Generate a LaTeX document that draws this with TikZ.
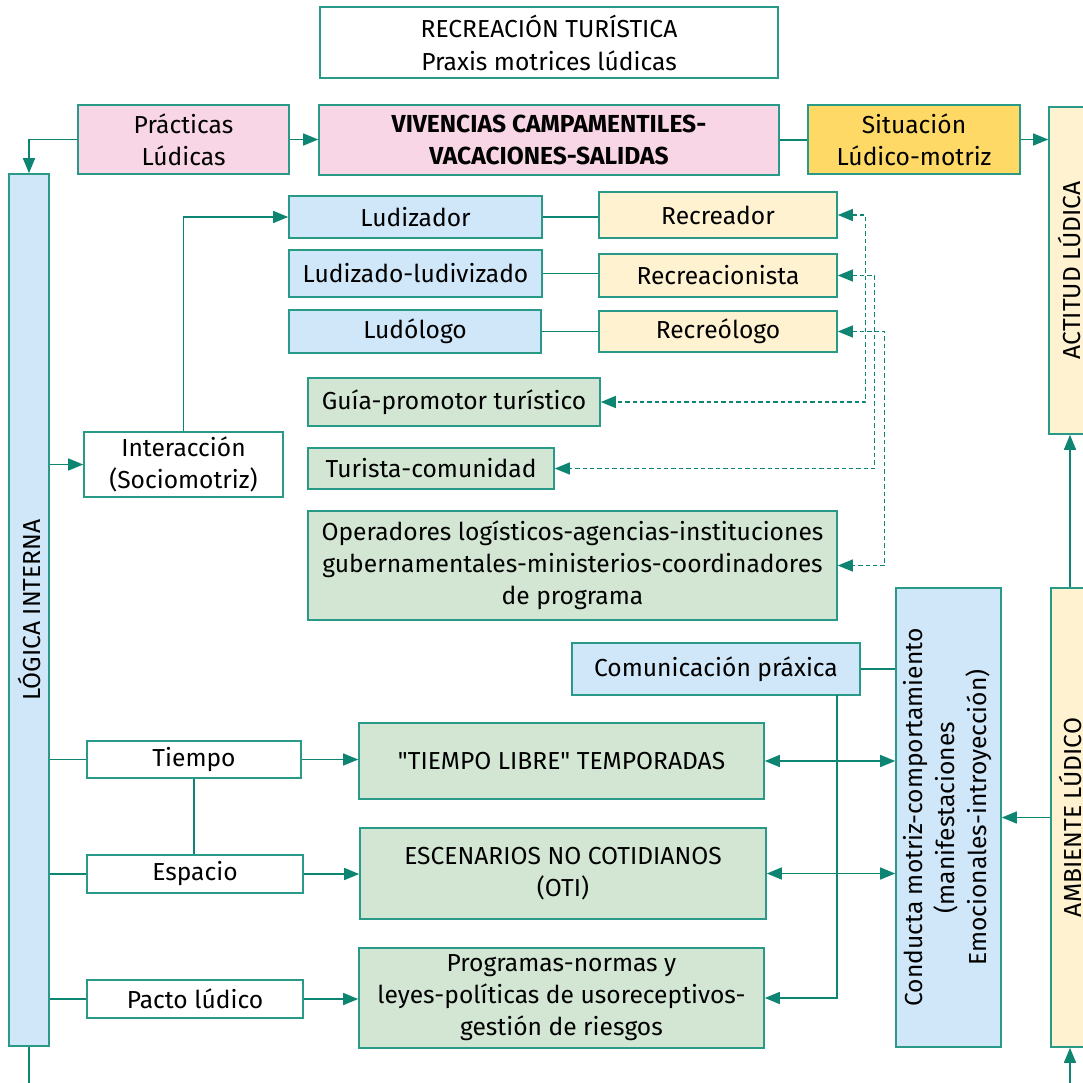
\documentclass[tikz,border=0pt]{standalone}
\usepackage{fontspec}
\setmainfont{Fira Sans}[Ligatures=TeXOff]
\usetikzlibrary{arrows.meta}

\definecolor{edgec}{HTML}{2A9A88}
\definecolor{linec}{HTML}{0E8472}
\definecolor{pinkf}{HTML}{F9D6E6}
\definecolor{goldf}{HTML}{FFD966}
\definecolor{creamf}{HTML}{FFF2D0}
\definecolor{bluef}{HTML}{CFE7F8}
\definecolor{greenf}{HTML}{D2E6D3}

\tikzset{
  bx/.style={draw=edgec, line width=0.8pt, inner sep=0pt, align=center,
             font=\fontsize{12.3}{16}\selectfont, text=black},
  ln/.style={draw=linec, line width=0.75pt},
  arr/.style={ln, -{Triangle[length=7.5pt,width=6pt]}},
  darr/.style={ln, {Triangle[length=7.5pt,width=6pt]}-{Triangle[length=7.5pt,width=6pt]}},
  dashlink/.style={draw=linec, line width=0.6pt, dash pattern=on 2.2pt off 1.5pt,
               {Triangle[length=7.5pt,width=6pt]}-{Triangle[length=7.5pt,width=6pt]}},
}

% box given by its corners in pixel units: name, x1, y1, x2, y2, style, text
\newcommand\boxnode[7]{%
  \node[bx,#6,minimum width={(#4-#2)*0.5pt},minimum height={(#5-#3)*0.5pt}]
    (#1) at ({(#2+#4)/2},{(#3+#5)/2}) {#7};}

\begin{document}
\begin{tikzpicture}[x=0.5pt,y=-0.5pt]
\useasboundingbox (0,0) rectangle (1083,1083);

% top row
\boxnode{title}{320}{7}{778}{78}{fill=white,font=\fontsize{12.3}{16.5}\selectfont}{RECREACIÓN TURÍSTICA\\Praxis motrices lúdicas}
\boxnode{prac}{78}{105}{289}{174}{fill=pinkf}{Prácticas\\Lúdicas}
\boxnode{viv}{319}{105}{779}{175}{fill=pinkf,font=\fontsize{12.3}{16}\selectfont\bfseries}{VIVENCIAS CAMPAMENTILES-\\VACACIONES-SALIDAS}
\boxnode{sit}{808}{105}{1020}{174}{fill=goldf}{Situación\\Lúdico-motriz}

% vertical side bars
\boxnode{logica}{9}{174}{49}{1046}{fill=bluef}{\rotatebox{90}{LÓGICA INTERNA}}
\boxnode{act}{1049}{107}{1089}{434}{fill=creamf}{\rotatebox{90}{ACTITUD LÚDICA}}
\boxnode{amb}{1051}{588}{1089}{1047}{fill=creamf}{\rotatebox{90}{AMBIENTE LÚDICO}}
\boxnode{cond}{896}{588}{1001}{1047}{fill=bluef}{\rotatebox{90}{\begin{tabular}{@{}c@{}}Conducta motriz-comportamiento\\(manifestaciones\\Emocionales-introyección)\end{tabular}}}

% roles
\boxnode{ludz}{289}{196}{542}{238}{fill=bluef}{Ludizador}
\boxnode{ludv}{289}{250}{542}{297}{fill=bluef}{Ludizado-ludivizado}
\boxnode{ludo}{289}{310}{541}{353}{fill=bluef}{Ludólogo}
\boxnode{rc1}{599}{192}{837}{238}{fill=creamf}{Recreador}
\boxnode{rc2}{599}{254}{837}{297}{fill=creamf}{Recreacionista}
\boxnode{rc3}{599}{311}{837}{352}{fill=creamf}{Recreólogo}
\boxnode{guia}{308}{378}{600}{426}{fill=greenf}{Guía-promotor turístico}
\boxnode{tur}{308}{448}{554}{489}{fill=greenf}{Turista-comunidad}
\boxnode{oper}{308}{511}{837}{620}{fill=greenf}{Operadores logísticos-agencias-instituciones\\gubernamentales-ministerios-coordinadores\\de programa}
\boxnode{inter}{84}{432}{283}{497}{fill=white}{Interacción\\(Sociomotriz)}
\boxnode{com}{572}{643}{860}{695}{fill=bluef}{Comunicación práxica}

% lower block
\boxnode{tiem}{87}{741}{301}{778}{fill=white}{Tiempo}
\boxnode{esp}{87}{855}{303}{893}{fill=white}{Espacio}
\boxnode{pacto}{87}{980}{303}{1018}{fill=white}{Pacto lúdico}
\boxnode{tl}{359}{723}{764}{799}{fill=greenf}{"TIEMPO LIBRE" TEMPORADAS}
\boxnode{esc}{360}{828}{766}{919}{fill=greenf}{ESCENARIOS NO COTIDIANOS\\(OTI)}
\boxnode{prog}{359}{948}{764}{1048}{fill=greenf}{Programas-normas y\\leyes-políticas de usoreceptivos-\\gestión de riesgos}

% connectors, top
\draw[arr] (prac.west) -| (logica.north);
\draw[arr] (prac.east) -- (prac.east -| viv.west);
\draw[ln] (viv.east) -- (viv.east -| sit.west);
\draw[arr] (sit.east) -- (sit.east -| act.west);
\draw[arr] (amb.north) -- (amb.north |- act.south);
\coordinate (lbot) at (29,1083);
\draw[arr] (amb.south |- lbot) -- (amb.south);
\draw[ln] (logica.south) -- (lbot);

% interaction and roles
\draw[arr] (logica.east |- inter.west) -- (inter.west);
\draw[arr] (inter.north) |- (ludz.west);
\draw[ln] (ludz.east) -- (ludz.east -| rc1.west);
\draw[ln] (ludv.east) -- (ludv.east -| rc2.west);
\draw[ln] (ludo.east) -- (ludo.east -| rc3.west);
\draw[dashlink] (rc1.east) -- ++(28,0) |- (guia.east);
\draw[dashlink] (rc2.east) -- ++(37,0) |- (tur.east);
\draw[dashlink] (rc3.east) -- ++(47,0) |- (oper.east);

% behaviour block
\draw[ln] (com.east) -- (com.east -| cond.west);
\coordinate (comdrop) at (837,695);
\draw[arr] (comdrop) |- (prog.east);
\draw[darr] (tl.east) -- (tl.east -| cond.west);
\draw[darr] (esc.east) -- (esc.east -| cond.west);
\draw[arr] (amb.west |- cond.east) -- (cond.east);

% time, space, pact
\draw[ln] (logica.east |- tiem.west) -- (tiem.west);
\draw[ln] (logica.east |- esp.west) -- (esp.west);
\draw[ln] (logica.east |- pacto.west) -- (pacto.west);
\draw[ln] (tiem.south) -- (tiem.south |- esp.north);
\draw[arr] (tiem.east) -- (tiem.east -| tl.west);
\draw[arr] (esp.east) -- (esp.east -| esc.west);
\draw[arr] (pacto.east) -- (pacto.east -| prog.west);
\end{tikzpicture}
\end{document}
